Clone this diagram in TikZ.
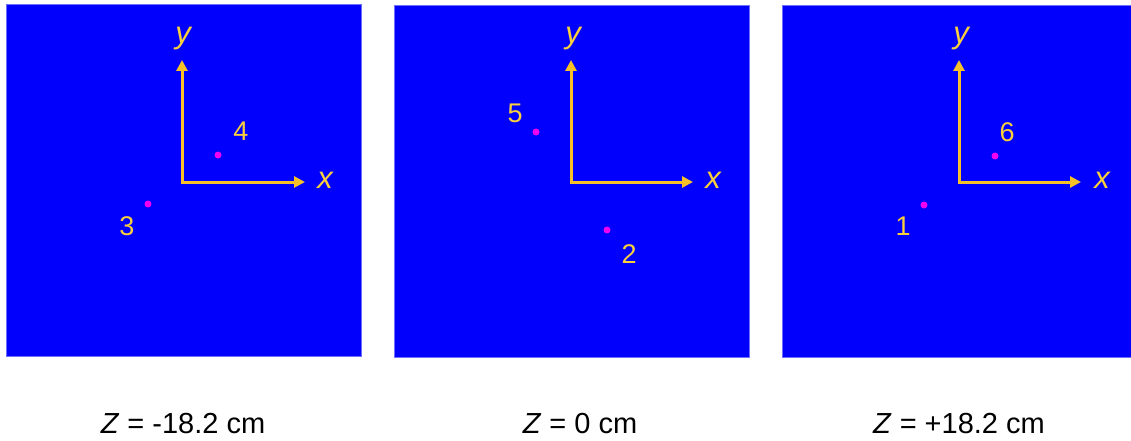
\documentclass[tikz,border=0pt]{standalone}
\usepackage{fontspec}
\setmainfont{Liberation Sans}
\usetikzlibrary{arrows.meta}
\definecolor{bg}{RGB}{0,0,252}
\definecolor{edge}{RGB}{110,110,255}
\definecolor{axis}{RGB}{245,192,40}
\definecolor{lbltext}{RGB}{250,208,60}
\definecolor{dotc}{RGB}{240,0,240}
\begin{document}
\begin{tikzpicture}[x=1pt,y=-1pt,
  panel/.style={fill=bg, draw=edge, line width=0.6pt},
  axisarrow/.style={draw=axis, line width=3pt, line join=miter,
    {Triangle[length=11pt,width=11pt]}-{Triangle[length=11pt,width=11pt]}},
  axlbl/.style={text=lbltext, font=\fontsize{31}{31}\selectfont\itshape, inner sep=0, anchor=base},
  numlbl/.style={text=lbltext, font=\fontsize{27}{27}\selectfont, inner sep=0, anchor=base},
  pt/.style={circle, fill=dotc, minimum size=7pt, inner sep=0},
  captxt/.style={font=\fontsize{29}{29}\selectfont, inner sep=0, anchor=base}]
\useasboundingbox (0,0) rectangle (1131,441);

% panels
\path[panel] (6,4) rectangle (361,356);
\path[panel] (394,5) rectangle (749,357);
\path[panel] (782,5) rectangle (1136,357);

% panel 1
\coordinate (o1) at (182,182);
\coordinate (y1) at (182,60);
\coordinate (x1) at (305,182);
\draw[axisarrow] (y1) -- (o1) -- (x1);
\node[axlbl] (ly1) at (183,44) {y};
\node[axlbl] (lx1) at (325,188) {x};
\node[pt] (p4) at (218,155) {};
\node[numlbl] (n4) at (241,140) {4};
\node[pt] (p3) at (148,204) {};
\node[numlbl] (n3) at (127,235) {3};
\node[captxt] (c1) at (183,433) {\textit{Z} = -18.2 cm};

% panel 2
\coordinate (o2) at (571,182);
\coordinate (y2) at (571,60);
\coordinate (x2) at (693,182);
\draw[axisarrow] (y2) -- (o2) -- (x2);
\node[axlbl] (ly2) at (573,44) {y};
\node[axlbl] (lx2) at (713,188) {x};
\node[pt] (p5) at (536,132) {};
\node[numlbl] (n5) at (515,122) {5};
\node[pt] (p2) at (607,230) {};
\node[numlbl] (n2) at (629,263) {2};
\node[captxt] (c2) at (580,433) {\textit{Z} = 0 cm};

% panel 3
\coordinate (o3) at (959,182);
\coordinate (y3) at (959,60);
\coordinate (x3) at (1081,182);
\draw[axisarrow] (y3) -- (o3) -- (x3);
\node[axlbl] (ly3) at (961,44) {y};
\node[axlbl] (lx3) at (1102,188) {x};
\node[pt] (p6) at (995,156) {};
\node[numlbl] (n6) at (1007,141) {6};
\node[pt] (p1) at (924,205) {};
\node[numlbl] (n1) at (903,235) {1};
\node[captxt] (c3) at (959,433) {\textit{Z} = +18.2 cm};
\end{tikzpicture}
\end{document}
